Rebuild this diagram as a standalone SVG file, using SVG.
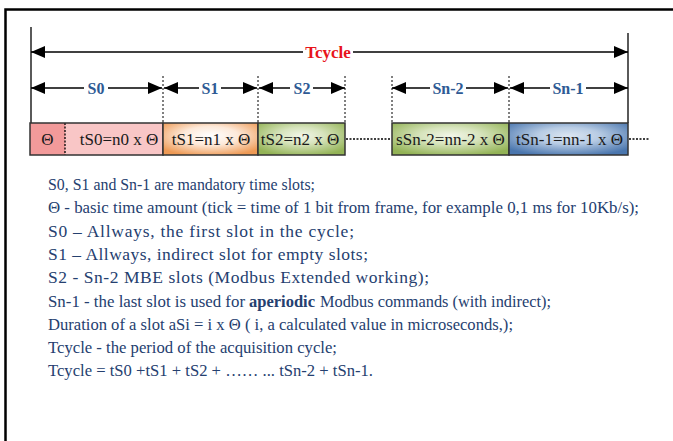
<svg xmlns="http://www.w3.org/2000/svg" width="673" height="441" viewBox="0 0 673 441">
  <defs>
    <marker id="head" viewBox="0 0 14 12" refX="14" refY="6" markerWidth="14" markerHeight="12" markerUnits="userSpaceOnUse" orient="auto-start-reverse">
      <path d="M0,0 L14,6 L0,12 z" fill="#000"/>
    </marker>
    <radialGradient id="gOrange" cx="50%" cy="40%" r="65%">
      <stop offset="0" stop-color="#ffffff"/>
      <stop offset="0.45" stop-color="#fde9d9"/>
      <stop offset="1" stop-color="#ee9a55"/>
    </radialGradient>
    <radialGradient id="gGreen" cx="50%" cy="40%" r="65%">
      <stop offset="0" stop-color="#f2f6e8"/>
      <stop offset="0.4" stop-color="#d7e4bd"/>
      <stop offset="1" stop-color="#93b356"/>
    </radialGradient>
    <radialGradient id="gBlue" cx="50%" cy="40%" r="65%">
      <stop offset="0" stop-color="#dbe5f1"/>
      <stop offset="0.4" stop-color="#b8cce4"/>
      <stop offset="1" stop-color="#4a76ae"/>
    </radialGradient>
  </defs>
  <style>
    .frame { fill: none; stroke: #000; stroke-width: 2.5; }
    .edge { stroke: #000; stroke-width: 1.3; fill: none; }
    .guide { stroke: #000; stroke-width: 1; stroke-dasharray: 2 2; fill: none; }
    .dots { stroke: #000; stroke-width: 1.3; stroke-dasharray: 2 1.5; fill: none; }
    .dim { stroke: #000; stroke-width: 1.5; fill: none; }
    .cell { stroke: #333; stroke-width: 1.5; }
    .celltxt { font-family: "Liberation Serif", "Times New Roman", serif; font-size: 17px; fill: #1a1a1a; text-anchor: middle; }
    .lbl { font-family: "Liberation Serif", "Times New Roman", serif; font-size: 16px; font-weight: bold; fill: #2e5a94; text-anchor: middle; }
    .total { font-family: "Liberation Serif", "Times New Roman", serif; font-size: 17px; font-weight: bold; fill: #e8141b; text-anchor: middle; }
    .note { font-family: "Liberation Serif", "Times New Roman", serif; font-size: 17.5px; fill: #25406f; }
    .note.strong { font-weight: bold; }
  </style>

  <!-- outer frame -->
  <rect class="frame" x="5.5" y="9.5" width="720" height="500"/>

  <!-- extension lines -->
  <g id="extensions">
    <line class="edge" x1="31" y1="27" x2="31" y2="123"/>
    <line class="edge" x1="628" y1="33" x2="628" y2="123"/>
    <line class="guide" x1="163" y1="76" x2="163" y2="123"/>
    <line class="guide" x1="258" y1="76" x2="258" y2="123"/>
    <line class="guide" x1="345" y1="76" x2="345" y2="123"/>
    <line class="guide" x1="392" y1="76" x2="392" y2="123"/>
    <line class="guide" x1="509" y1="76" x2="509" y2="123"/>
  </g>

  <!-- time slot cells -->
  <g id="slot-s0">
    <rect x="65" y="123" width="98" height="32" fill="#f9c6c6"/>
    <text class="celltxt" x="119" y="145">tS0=n0 x Θ</text>
  </g>
  <g id="slot-tick">
    <rect x="30" y="123" width="35" height="32" fill="#f29a9a"/>
    <line class="dots" x1="65" y1="123" x2="65" y2="155"/>
    <text class="celltxt" x="47.5" y="145">Θ</text>
  </g>
  <rect class="cell" x="30" y="123" width="133" height="32" fill="none"/>
  <g id="slot-s1">
    <rect class="cell" x="163" y="123" width="95" height="32" fill="url(#gOrange)"/>
    <text class="celltxt" x="211" y="145">tS1=n1 x Θ</text>
  </g>
  <g id="slot-s2">
    <rect class="cell" x="258" y="123" width="87" height="32" fill="url(#gGreen)"/>
    <text class="celltxt" x="300" y="145">tS2=n2 x Θ</text>
  </g>
  <g id="slot-sn2">
    <rect class="cell" x="392" y="123" width="117" height="32" fill="url(#gGreen)"/>
    <text class="celltxt" x="450.5" y="145">sSn-2=nn-2 x Θ</text>
  </g>
  <g id="slot-sn1">
    <rect class="cell" x="509" y="123" width="119" height="32" fill="url(#gBlue)"/>
    <text class="celltxt" x="569.5" y="145">tSn-1=nn-1 x Θ</text>
  </g>

  <!-- dimension arrows and continuation dots -->
  <g id="connectors">
    <line class="dots" x1="346" y1="139" x2="391" y2="139"/>
    <line class="dots" x1="629" y1="139" x2="650" y2="139"/>

    <line class="dim" x1="31" y1="52" x2="303" y2="52" marker-start="url(#head)"/>
    <line class="dim" x1="353" y1="52" x2="628" y2="52" marker-end="url(#head)"/>

    <line class="dim" x1="31" y1="88" x2="84" y2="88" marker-start="url(#head)"/>
    <line class="dim" x1="108" y1="88" x2="162" y2="88" marker-end="url(#head)"/>

    <line class="dim" x1="164" y1="88" x2="199" y2="88" marker-start="url(#head)"/>
    <line class="dim" x1="221" y1="88" x2="257" y2="88" marker-end="url(#head)"/>

    <line class="dim" x1="259" y1="88" x2="290" y2="88" marker-start="url(#head)"/>
    <line class="dim" x1="313" y1="88" x2="345" y2="88" marker-end="url(#head)"/>

    <line class="dim" x1="392" y1="88" x2="430" y2="88" marker-start="url(#head)"/>
    <line class="dim" x1="466" y1="88" x2="508" y2="88" marker-end="url(#head)"/>

    <line class="dim" x1="510" y1="88" x2="550" y2="88" marker-start="url(#head)"/>
    <line class="dim" x1="586" y1="88" x2="628" y2="88" marker-end="url(#head)"/>
  </g>

  <!-- dimension labels -->
  <g id="labels">
    <text class="total" x="328" y="58">Tcycle</text>
    <text class="lbl" x="96" y="93.5">S0</text>
    <text class="lbl" x="210" y="93.5">S1</text>
    <text class="lbl" x="302" y="93.5">S2</text>
    <text class="lbl" x="448" y="93.5">Sn-2</text>
    <text class="lbl" x="568" y="93.5">Sn-1</text>
  </g>

  <!-- legend -->
  <g id="legend">
    <text class="note" x="48" y="190" textLength="267" lengthAdjust="spacingAndGlyphs">S0, S1 and Sn-1 are mandatory time slots;</text>
    <text class="note" x="48" y="213.3" textLength="591" lengthAdjust="spacingAndGlyphs">Θ - basic time amount (tick = time of 1 bit from frame, for example 0,1 ms for 10Kb/s);</text>
    <text class="note" x="48" y="236.6" textLength="306" lengthAdjust="spacing">S0 – Allways, the first slot in the cycle;</text>
    <text class="note" x="48" y="259.9" textLength="320" lengthAdjust="spacing">S1 – Allways, indirect slot for empty slots;</text>
    <text class="note" x="48" y="283.2" textLength="381" lengthAdjust="spacing">S2 - Sn-2 MBE slots (Modbus Extended working);</text>
    <text class="note" x="48" y="306.5" textLength="197" lengthAdjust="spacingAndGlyphs">Sn-1 - the last slot is used for</text>
    <text class="note strong" x="249" y="306.5" textLength="66" lengthAdjust="spacingAndGlyphs">aperiodic</text>
    <text class="note" x="320" y="306.5" textLength="231" lengthAdjust="spacingAndGlyphs">Modbus commands (with indirect);</text>
    <text class="note" x="48" y="329.8" textLength="465" lengthAdjust="spacingAndGlyphs">Duration of a slot aSi = i x Θ ( i, a calculated value in microseconds,);</text>
    <text class="note" x="48" y="353.1" textLength="289" lengthAdjust="spacingAndGlyphs">Tcycle - the period of the acquisition cycle;</text>
    <text class="note" x="48" y="376.4" textLength="325" lengthAdjust="spacingAndGlyphs">Tcycle = tS0 +tS1 + tS2 + …… ... tSn-2 + tSn-1.</text>
  </g>
</svg>
